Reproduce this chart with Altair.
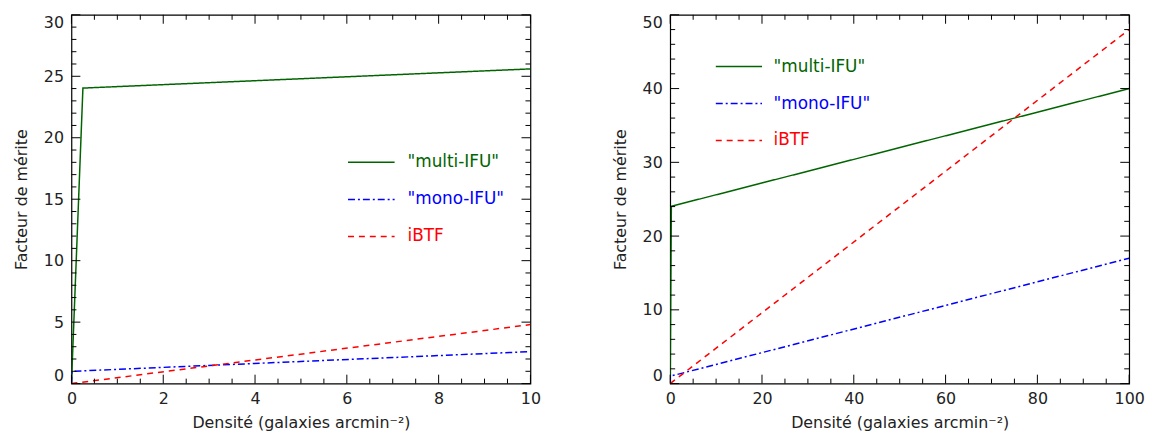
import altair as alt
import pandas as pd
import numpy as np

# ---- data ----
series_names = ['"multi-IFU"', '"mono-IFU"', 'iBTF']
series_colors = ['#006400', '#0000ff', '#ff0000']
series_dash = [[1, 0], [7, 3, 2, 3], [6, 5]]

multi_x = [0, 0.25, 10, 100]
multi_y = [0, 24.04, 25.6, 40.0]
mono_x = [0, 0.01, 10, 100]
mono_y = [0, 1.0, 2.6, 17.0]
ibtf_x = [0, 10, 100]
ibtf_y = [0, 4.8, 48.0]

left_x_major = [0, 2, 4, 6, 8, 10]
left_y_major = [0, 5, 10, 15, 20, 25, 30]
right_x_major = [0, 20, 40, 60, 80, 100]
right_y_major = [0, 10, 20, 30, 40, 50]

x_title = "Densité (galaxies arcmin⁻²)"
y_title = "Facteur de mérite"

W, H = 463, 372
FONT = "DejaVu Sans"

rows = []
for name, xs, ys in [(series_names[0], multi_x, multi_y),
                     (series_names[1], mono_x, mono_y),
                     (series_names[2], ibtf_x, ibtf_y)]:
    for i, (a, b) in enumerate(zip(xs, ys)):
        rows.append({"series": name, "d": a, "f": b, "o": i})
df_all = pd.DataFrame(rows)


def panel(xmax, ymax, xmaj, ymaj, xminor_step, yminor_step, leg):
    df = df_all[df_all["d"] <= xmax]
    xs = alt.Scale(domain=[0, xmax], nice=False, zero=False)
    ys = alt.Scale(domain=[0, ymax], nice=False, zero=False)
    xax = alt.Axis(values=xmaj, title=x_title, ticks=False, domain=False, grid=False,
                   labelFlush=False, labelPadding=7, titlePadding=8, format="d",
                   labelFont=FONT, labelFontSize=16, labelColor="#222222",
                   titleFont=FONT, titleFontSize=16, titleFontWeight="normal", titleColor="#222222")
    yax = alt.Axis(values=ymaj, title=y_title, ticks=False, domain=False, grid=False,
                   labelFlush=True, labelPadding=8, titlePadding=14, format="d",
                   labelFont=FONT, labelFontSize=16, labelColor="#222222",
                   titleFont=FONT, titleFontSize=16, titleFontWeight="normal", titleColor="#222222")
    lines = alt.Chart(df).mark_line(strokeWidth=1.5, clip=True).encode(
        x=alt.X("d:Q", scale=xs, axis=xax),
        y=alt.Y("f:Q", scale=ys, axis=yax),
        color=alt.Color("series:N", scale=alt.Scale(domain=series_names, range=series_colors), legend=None),
        strokeDash=alt.StrokeDash("series:N", scale=alt.Scale(domain=series_names, range=series_dash), legend=None),
        order="o:Q",
    )
    layers = [lines]
    xminor = [v for v in np.arange(0, xmax + 1e-9, xminor_step) if v not in xmaj]
    yminor = [v for v in np.arange(0, ymax + 1e-9, yminor_step) if v not in ymaj]
    for vals, length in [(xmaj, 9), (xminor, 5)]:
        d = pd.DataFrame({"d": vals})
        for yy, yy2 in [(H, H - length), (0, length)]:
            layers.append(alt.Chart(d).mark_rule(color="black", strokeWidth=1).encode(
                x=alt.X("d:Q", scale=xs, axis=xax), y=alt.value(yy), y2=alt.value(yy2)))
    for vals, length in [(ymaj, 9), (yminor, 5)]:
        d = pd.DataFrame({"f": vals})
        for xx, xx2 in [(0, length), (W, W - length)]:
            layers.append(alt.Chart(d).mark_rule(color="black", strokeWidth=1).encode(
                y=alt.Y("f:Q", scale=ys, axis=yax), x=alt.value(xx), x2=alt.value(xx2)))
    one = pd.DataFrame({"a": [0]})
    lx0, lx1, tx, lys = leg
    for i, name in enumerate(series_names):
        layers.append(alt.Chart(one).mark_rule(strokeWidth=1.5, color=series_colors[i],
                                               strokeDash=series_dash[i]).encode(
            x=alt.value(lx0), x2=alt.value(lx1), y=alt.value(lys[i])))
        layers.append(alt.Chart(one).mark_text(align="left", baseline="middle", font=FONT, fontSize=17,
                                               color=series_colors[i]).encode(
            x=alt.value(tx), y=alt.value(lys[i]), text=alt.value(name)))
    return alt.layer(*layers).properties(width=W, height=H)


left = panel(10, 30, left_x_major, left_y_major, 0.5, 1,
             (279, 326, 339, [148.8, 186.2, 223.5]))
right = panel(100, 50, right_x_major, right_y_major, 5, 2,
              (46, 92.6, 104.3, [52.2, 89.5, 126.8]))

chart = alt.hconcat(left, right, spacing=71).properties(
    padding={"left": 5, "top": 3, "right": 5, "bottom": 5},
    background="white",
).configure_view(stroke="black", strokeWidth=1.2)

chart.save("out.html", embed_options={"renderer": "svg", "actions": False})
